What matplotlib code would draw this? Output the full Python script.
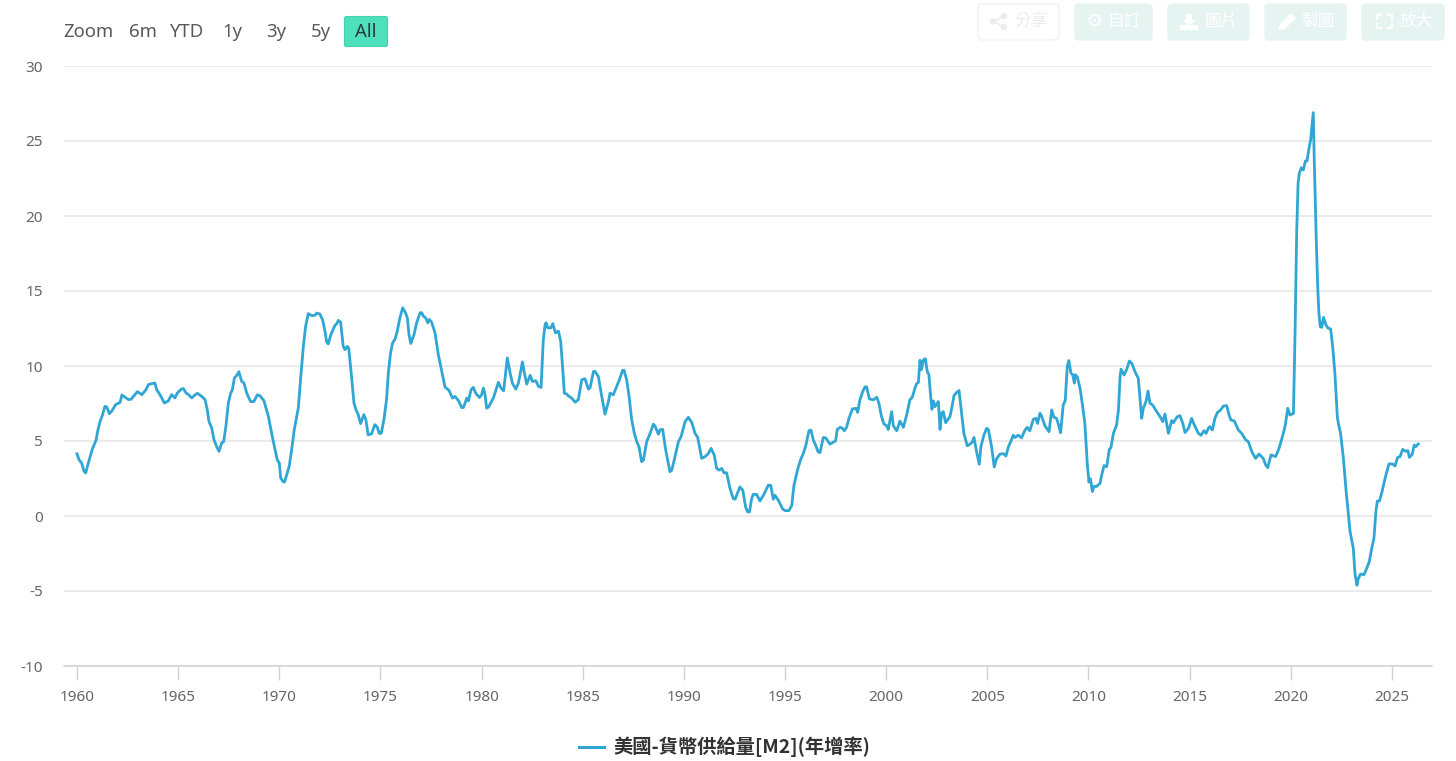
import matplotlib
matplotlib.use("Agg")
import matplotlib.pyplot as plt
from matplotlib.patches import FancyBboxPatch, Circle, Polygon
from matplotlib.transforms import Affine2D

plt.rcParams['font.family'] = ['Noto Sans', 'Noto Sans CJK TC', 'DejaVu Sans']
plt.rcParams['axes.unicode_minus'] = False

series_name = '美國-貨幣供給量[M2](年增率)'
years = [
 1960.0,1960.1,1960.23,1960.35,1960.43,1960.56,1960.76,1960.94,1961.02,1961.14,1961.25,1961.38,1961.47,1961.6,1961.71,1961.91,
 1962.13,1962.22,1962.39,1962.54,1962.67,1962.82,1962.98,1963.21,1963.41,1963.53,1963.69,1963.85,1963.94,1964.1,1964.32,1964.51,
 1964.68,1964.84,1964.96,1965.17,1965.26,1965.39,1965.5,1965.67,1965.83,1965.95,1966.16,1966.33,1966.44,1966.52,1966.66,1966.77,
 1966.9,1967.02,1967.15,1967.25,1967.36,1967.48,1967.59,1967.68,1967.78,1967.89,1968.0,1968.14,1968.25,1968.39,1968.58,1968.75,
 1968.91,1969.04,1969.24,1969.46,1969.62,1969.79,1969.9,1970.0,1970.07,1970.2,1970.26,1970.49,1970.61,1970.74,1970.94,1971.05,
 1971.19,1971.3,1971.43,1971.6,1971.76,1971.85,1972.0,1972.14,1972.26,1972.34,1972.42,1972.55,1972.75,1972.83,1972.92,1973.03,
 1973.16,1973.25,1973.36,1973.43,1973.57,1973.69,1973.79,1973.9,1974.02,1974.18,1974.28,1974.39,1974.56,1974.72,1974.84,1974.94,
 1975.04,1975.17,1975.3,1975.39,1975.5,1975.6,1975.72,1975.83,1975.96,1976.1,1976.22,1976.33,1976.41,1976.5,1976.66,1976.79,
 1976.96,1977.04,1977.12,1977.24,1977.34,1977.42,1977.53,1977.7,1977.86,1978.03,1978.19,1978.39,1978.56,1978.69,1978.85,1979.02,
 1979.1,1979.27,1979.35,1979.48,1979.59,1979.71,1979.89,1980.0,1980.09,1980.17,1980.25,1980.34,1980.58,1980.83,1980.96,1981.09,
 1981.27,1981.41,1981.52,1981.69,1981.82,1982.02,1982.1,1982.23,1982.4,1982.51,1982.68,1982.81,1982.94,1983.05,1983.14,1983.19,
 1983.27,1983.42,1983.52,1983.65,1983.8,1983.91,1984.0,1984.09,1984.21,1984.29,1984.45,1984.62,1984.78,1984.95,1985.11,1985.28,
 1985.36,1985.53,1985.61,1985.77,1985.94,1986.1,1986.27,1986.35,1986.51,1986.68,1986.81,1986.97,1987.04,1987.17,1987.29,1987.42,
 1987.55,1987.67,1987.78,1987.91,1988.0,1988.16,1988.33,1988.49,1988.57,1988.74,1988.82,1988.95,1989.1,1989.31,1989.4,1989.56,
 1989.73,1989.86,1990.06,1990.22,1990.39,1990.55,1990.68,1990.88,1991.04,1991.21,1991.34,1991.5,1991.62,1991.74,1991.87,1991.98,
 1992.11,1992.28,1992.44,1992.53,1992.77,1992.91,1993.05,1993.15,1993.24,1993.35,1993.43,1993.6,1993.76,1993.93,1994.17,1994.29,
 1994.42,1994.5,1994.67,1994.88,1995.0,1995.19,1995.33,1995.44,1995.61,1995.77,1995.9,1996.03,1996.18,1996.28,1996.4,1996.51,
 1996.64,1996.73,1996.89,1997.01,1997.22,1997.39,1997.5,1997.58,1997.72,1997.83,1997.93,1998.04,1998.16,1998.33,1998.51,1998.59,
 1998.7,1998.84,1998.95,1999.03,1999.17,1999.36,1999.53,1999.64,1999.77,1999.89,2000.02,2000.1,2000.27,2000.35,2000.52,2000.68,
 2000.85,2001.01,2001.17,2001.29,2001.42,2001.5,2001.59,2001.67,2001.74,2001.83,2001.93,2002.03,2002.11,2002.2,2002.26,2002.33,
 2002.41,2002.58,2002.66,2002.74,2002.82,2002.94,2003.15,2003.27,2003.35,2003.48,2003.6,2003.73,2003.84,2004.01,2004.14,2004.26,
 2004.34,2004.47,2004.6,2004.68,2004.83,2004.96,2005.05,2005.21,2005.34,2005.46,2005.62,2005.79,2005.92,2006.04,2006.15,2006.28,
 2006.36,2006.53,2006.69,2006.86,2006.97,2007.1,2007.27,2007.4,2007.48,2007.6,2007.68,2007.85,2008.05,2008.18,2008.29,2008.42,
 2008.5,2008.62,2008.75,2008.85,2008.95,2009.03,2009.13,2009.22,2009.3,2009.35,2009.45,2009.58,2009.69,2009.82,2009.94,2010.02,
 2010.1,2010.19,2010.27,2010.4,2010.57,2010.65,2010.77,2010.9,2011.03,2011.11,2011.23,2011.39,2011.48,2011.56,2011.61,2011.76,
 2011.89,2012.02,2012.14,2012.3,2012.46,2012.55,2012.63,2012.71,2012.84,2012.94,2013.04,2013.17,2013.37,2013.54,2013.67,2013.78,
 2013.95,2014.11,2014.19,2014.39,2014.52,2014.66,2014.77,2014.94,2015.1,2015.23,2015.43,2015.56,2015.71,2015.81,2015.92,2016.0,
 2016.12,2016.25,2016.37,2016.53,2016.67,2016.83,2016.95,2017.04,2017.21,2017.41,2017.57,2017.77,2017.9,2018.07,2018.26,2018.43,
 2018.64,2018.76,2018.86,2019.02,2019.25,2019.42,2019.63,2019.73,2019.85,2019.96,2020.13,2020.21,2020.29,2020.36,2020.42,2020.52,
 2020.62,2020.72,2020.8,2020.9,2020.98,2021.11,2021.16,2021.25,2021.33,2021.39,2021.46,2021.53,2021.62,2021.74,2021.85,2021.97,
 2022.07,2022.18,2022.3,2022.35,2022.46,2022.6,2022.73,2022.84,2022.93,2023.04,2023.09,2023.17,2023.27,2023.34,2023.45,2023.62,
 2023.75,2023.88,2024.0,2024.11,2024.21,2024.28,2024.38,2024.49,2024.66,2024.85,2025.03,2025.15,2025.28,2025.4,2025.53,2025.69,
 2025.79,2025.86,2026.0,2026.1,2026.17,2026.3,
]
m2_growth = [
 4.15,3.75,3.53,2.98,2.87,3.53,4.47,5.05,5.64,6.31,6.69,7.31,7.27,6.82,6.98,7.42,
 7.58,8.07,7.91,7.76,7.78,8.02,8.29,8.09,8.42,8.76,8.82,8.87,8.42,8.09,7.53,7.67,
 8.09,7.87,8.2,8.47,8.49,8.2,8.11,7.87,8.07,8.18,7.98,7.76,7.09,6.31,5.87,5.09,
 4.64,4.31,4.87,4.96,5.98,7.53,8.16,8.42,9.2,9.36,9.62,8.98,8.87,8.2,7.62,7.64,
 8.07,8.02,7.69,6.64,5.53,4.42,3.75,3.53,2.53,2.27,2.27,3.31,4.42,5.76,7.2,9.09,
 11.31,12.64,13.49,13.36,13.38,13.53,13.47,13.09,12.31,11.6,11.47,12.09,12.71,12.8,13.04,12.93,
 11.31,11.09,11.31,11.2,9.31,7.53,7.09,6.76,6.16,6.76,6.42,5.42,5.47,6.09,5.93,5.51,
 5.51,6.42,7.76,9.53,10.87,11.53,11.8,12.31,13.2,13.88,13.6,13.2,12.1,11.5,12.1,12.88,
 13.55,13.55,13.33,13.2,12.88,13.1,12.92,12.2,10.76,9.64,8.6,8.37,7.86,7.97,7.7,7.23,
 7.23,7.86,7.68,8.42,8.57,8.19,7.9,8.08,8.53,8.08,7.19,7.26,7.86,8.91,8.53,8.35,
 10.54,9.53,8.86,8.46,8.86,10.27,9.64,8.79,9.38,8.97,9.02,8.64,8.57,11.76,12.77,12.88,
 12.54,12.54,12.83,12.21,12.32,11.65,9.98,8.19,8.13,8.01,7.86,7.59,7.75,9.08,9.15,8.46,
 8.53,9.64,9.64,9.3,7.97,6.79,7.63,8.19,8.08,8.64,9.08,9.71,9.71,9.08,7.97,6.41,
 5.51,4.96,4.62,3.62,3.73,4.96,5.51,6.12,6.0,5.45,5.74,5.78,4.4,2.95,3.06,3.95,
 4.96,5.29,6.29,6.58,6.23,5.51,5.25,3.84,3.95,4.17,4.51,4.06,3.17,3.06,3.17,2.88,
 2.88,1.83,1.16,1.12,1.94,1.72,0.6,0.27,0.27,1.16,1.45,1.43,1.0,1.38,2.05,2.05,
 1.12,1.38,1.05,0.47,0.36,0.36,0.69,2.04,3.04,3.76,4.16,4.72,5.68,5.73,5.06,4.72,
 4.27,4.23,5.23,5.21,4.79,4.92,5.01,5.77,5.91,5.86,5.68,5.91,6.51,7.14,7.18,6.91,
 7.74,8.3,8.61,8.61,7.81,7.74,7.92,7.52,6.62,6.13,6.02,5.77,6.96,6.02,5.68,6.33,
 5.91,6.73,7.74,7.92,8.52,8.81,8.9,10.38,9.75,10.38,10.49,9.64,9.42,7.96,7.11,7.67,
 7.29,7.63,5.77,6.85,6.96,6.22,6.62,7.4,8.03,8.23,8.37,6.85,5.5,4.68,4.79,4.94,
 5.23,4.27,3.45,4.61,5.39,5.84,5.77,4.61,3.27,3.83,4.12,4.16,4.0,4.61,4.94,5.39,
 5.23,5.39,5.21,5.73,5.91,5.68,6.44,6.51,6.17,6.85,6.67,6.0,5.62,7.07,6.58,6.51,
 6.17,5.55,7.4,7.7,9.98,10.36,9.53,9.42,8.86,9.42,9.26,8.52,7.52,6.17,3.49,2.26,
 2.48,1.63,1.97,1.97,2.18,2.73,3.36,3.29,4.44,4.56,5.51,6.07,7.07,9.29,9.78,9.4,
 9.78,10.33,10.18,9.62,9.18,7.73,6.51,7.18,7.62,8.33,7.51,7.4,6.96,6.62,6.29,6.8,
 5.51,6.36,6.22,6.62,6.69,6.18,5.56,5.84,6.51,6.07,5.51,5.38,5.69,5.51,5.84,5.96,
 5.73,6.51,6.89,7.07,7.33,7.36,6.73,6.4,6.33,5.73,5.51,5.07,4.96,4.29,3.84,4.13,
 3.84,3.4,3.22,4.07,3.96,4.51,5.51,6.07,7.18,6.73,6.84,12.18,18.84,22.18,22.84,23.22,
 23.07,23.67,23.67,24.51,25.07,26.89,23.73,18.84,15.29,13.51,12.62,12.58,13.24,12.73,12.51,12.47,
 11.29,9.51,6.62,6.18,5.51,3.84,1.73,0.18,-1.04,-1.82,-2.16,-3.82,-4.62,-4.16,-3.87,-3.91,
 -3.49,-3.04,-2.16,-1.49,0.36,1.0,1.0,1.51,2.51,3.47,3.47,3.33,3.91,3.96,4.44,4.31,
 4.36,3.91,4.11,4.73,4.62,4.8,
]
x_ticks = [1960,1965,1970,1975,1980,1985,1990,1995,2000,2005,2010,2015,2020,2025]
y_ticks = [-10,-5,0,5,10,15,20,25,30]
range_labels = ['Zoom','6m','YTD','1y','3y','5y','All']
toolbar_labels = ['分享','自訂','圖片','製圖','放大']

W, H = 1456, 761
fig = plt.figure(figsize=(W/100, H/100), dpi=100, facecolor='white')
ax = fig.add_axes([64/W, 1-666/H, (1432-64)/W, 600/H])
px = Affine2D().scale(1/W, -1/H).translate(0, 1) + fig.transFigure

line, = ax.plot(years, m2_growth, color='#2fa6d3', lw=2.0, solid_joinstyle='round',
                label=series_name, zorder=3)
ax.set_xlim(1960-13/20.23, 1960+(1432-77)/20.23)
ax.set_ylim(-10, 30)
ax.set_xticks(x_ticks)
ax.set_yticks(y_ticks)
ax.grid(axis='y', color='#e6e6e6', lw=1.1)
ax.set_axisbelow(True)
for s in ['top','left','right']:
    ax.spines[s].set_visible(False)
ax.spines['bottom'].set_color('#ccd2d8')
ax.spines['bottom'].set_linewidth(1.1)
ax.tick_params(axis='x', length=10, width=1, color='#ccd2d8', labelcolor='#666666',
               labelsize=11, pad=7)
ax.tick_params(axis='y', length=0, labelcolor='#666666', labelsize=11, pad=15)

leg = ax.legend(loc='center', bbox_to_anchor=(724.5/W, 1-747/H), bbox_transform=fig.transFigure,
                frameon=False, handlelength=1.3, handletextpad=0.5, borderpad=0,
                prop={'family': ['Noto Sans CJK TC', 'DejaVu Sans'], 'size': 13.9, 'weight': 'bold'},
                labelcolor='#333333')
leg.get_lines()[0].set_linewidth(2.2)

# range selector
for lab, cx in zip(range_labels, [88.5, 143, 186.5, 232, 276.5, 320.5, 365.5]):
    if lab == 'All':
        fig.add_artist(FancyBboxPatch((344.5, 16.5), 43, 30, boxstyle='round,pad=0,rounding_size=2',
                                      transform=px, fc='#4de0bb', ec='#44d2ae', lw=0.8))
    fig.text(cx, 32, lab, transform=px, ha='center', va='center', fontsize=13.3,
             color='#2b3a3a' if lab == 'All' else '#5a5a5a')

# toolbar
boxes = [(977, 1060), (1074, 1153), (1167, 1250), (1264, 1347), (1361, 1445)]
for i, ((x0, x1), lab) in enumerate(zip(boxes, toolbar_labels)):
    fc = '#ffffff' if i == 0 else '#e6f4f1'
    ec = '#f1f1f1' if i == 0 else '#e6f4f1'
    fig.add_artist(FancyBboxPatch((x0+1, 4), x1-x0-2, 36, boxstyle='round,pad=0,rounding_size=4',
                                  transform=px, fc=fc, ec=ec, lw=1.0))
    fig.text(x1-12, 21.5, lab, transform=px, ha='right', va='center', fontsize=12,
             family=['Noto Sans CJK TC', 'DejaVu Sans'],
             color='#ececec' if i == 0 else '#ffffff')

def poly(pts, c):
    fig.add_artist(Polygon(pts, closed=True, transform=px, fc=c, ec='none'))

# share icon
for c in [(1004, 16), (1004, 27), (993, 21.5)]:
    fig.add_artist(Circle(c, 3.2, transform=px, fc='#ececec', ec='none'))
    fig.add_artist(plt.Line2D([993, c[0]], [21.5, c[1]], transform=px, color='#ececec', lw=1.2))
# gear icon
fig.text(1094, 21.5, '\u2699', transform=px, ha='center', va='center', fontsize=14,
         family='DejaVu Sans', color='#ffffff')
# download icon
poly([(1186, 14), (1192, 14), (1192, 20), (1196, 20), (1189, 26), (1182, 20), (1186, 20)], '#ffffff')
poly([(1180, 25), (1198, 25), (1198, 30), (1180, 30)], '#ffffff')
# pencil icon
poly([(1278, 30), (1280, 24), (1291, 13), (1296, 18), (1285, 29)], '#ffffff')
# fullscreen icon
for (a, b, sx, sy) in [(1377, 15, 1, 1), (1392, 15, -1, 1), (1377, 28, 1, -1), (1392, 28, -1, -1)]:
    fig.add_artist(plt.Line2D([a+4*sx, a, a], [b, b, b+4*sy], transform=px, color='#ffffff', lw=1.6))

fig.savefig('out.png', dpi=100, facecolor='white')
